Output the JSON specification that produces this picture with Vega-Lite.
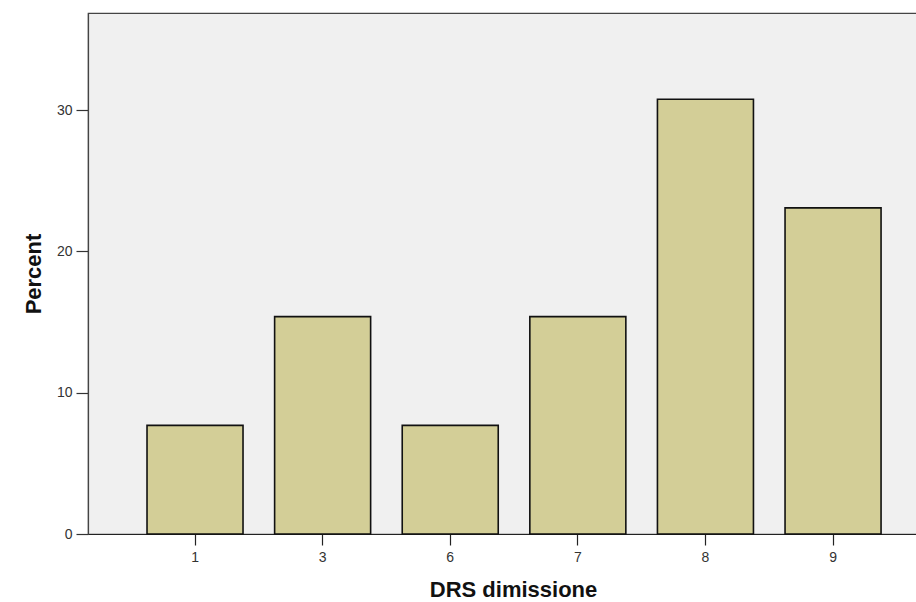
{
  "$schema": "https://vega.github.io/schema/vega-lite/v6.json",
  "width": 830,
  "height": 521,
  "autosize": {"type": "none"},
  "padding": {"left": 88, "top": 13, "right": 0, "bottom": 68},
  "background": "white",
  "config": {
    "view": {"fill": "#F0F0F0", "stroke": "#444444", "strokeWidth": 1.2},
    "font": "Liberation Sans"
  },
  "data": {
    "values": [
      {"DRS": "1", "Percent": 7.69},
      {"DRS": "3", "Percent": 15.38},
      {"DRS": "6", "Percent": 7.69},
      {"DRS": "7", "Percent": 15.38},
      {"DRS": "8", "Percent": 30.77},
      {"DRS": "9", "Percent": 23.08}
    ]
  },
  "mark": {"type": "bar", "fill": "#D3CE97", "stroke": "#111111", "strokeWidth": 1.6},
  "encoding": {
    "x": {
      "field": "DRS",
      "type": "ordinal",
      "sort": null,
      "title": "DRS dimissione",
      "scale": {"paddingInner": 0.2476, "paddingOuter": 0.376, "align": 0.615},
      "axis": {
        "labelAngle": 0,
        "labelFontSize": 14,
        "labelColor": "#333333",
        "labelPadding": 5,
        "tickSize": 11,
        "tickColor": "#222222",
        "tickWidth": 1.2,
        "domainColor": "#222222",
        "domainWidth": 1.2,
        "titleFontSize": 22,
        "titleFontWeight": "bold",
        "titleColor": "#111111",
        "titlePadding": 15,
        "titleX": 425,
        "titleAlign": "center"
      }
    },
    "y": {
      "field": "Percent",
      "type": "quantitative",
      "title": "Percent",
      "scale": {"domain": [0, 36.87], "nice": false},
      "axis": {
        "values": [0, 10, 20, 30],
        "grid": false,
        "labelFontSize": 14,
        "labelColor": "#333333",
        "labelPadding": 4,
        "tickSize": 12,
        "tickColor": "#333333",
        "tickWidth": 1.2,
        "domainColor": "#444444",
        "domainWidth": 1.2,
        "titleFontSize": 22,
        "titleFontWeight": "bold",
        "titleColor": "#111111",
        "titlePadding": 11
      }
    }
  }
}
